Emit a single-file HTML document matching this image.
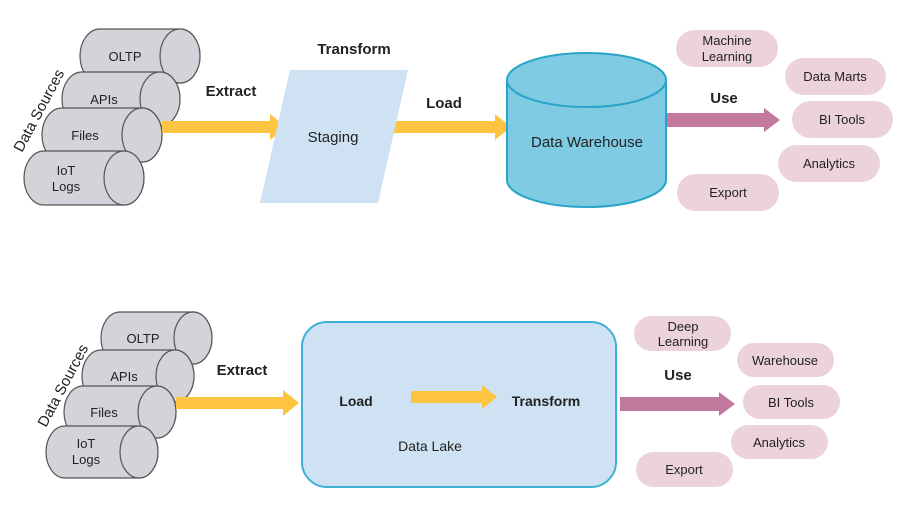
<!DOCTYPE html>
<html><head><meta charset="utf-8"><style>body{margin:0;background:#fff}svg{display:block}text{font-family:"Liberation Sans",sans-serif;fill:#222}</style></head><body>
<svg width="912" height="511" viewBox="0 0 912 511" xmlns="http://www.w3.org/2000/svg">
<g stroke="#555" stroke-width="1.2" fill="#d3d4d9">
<!-- top cylinders -->
<path d="M100,29 L180,29 A20,27 0 0 1 180,83 L100,83 A20,27 0 0 1 100,29Z"/><ellipse cx="180" cy="56" rx="20" ry="27"/>
<path d="M82,72 L160,72 A20,27 0 0 1 160,126 L82,126 A20,27 0 0 1 82,72Z"/><ellipse cx="160" cy="99" rx="20" ry="27"/>
<path d="M62,108 L142,108 A20,27 0 0 1 142,162 L62,162 A20,27 0 0 1 62,108Z"/><ellipse cx="142" cy="135" rx="20" ry="27"/>
<path d="M44,151 L124,151 A20,27 0 0 1 124,205 L44,205 A20,27 0 0 1 44,151Z"/><ellipse cx="124" cy="178" rx="20" ry="27"/>
<!-- bottom cylinders -->
<path d="M120,312 L193,312 A19,26 0 0 1 193,364 L120,364 A19,26 0 0 1 120,312Z"/><ellipse cx="193" cy="338" rx="19" ry="26"/>
<path d="M101,350 L175,350 A19,26 0 0 1 175,402 L101,402 A19,26 0 0 1 101,350Z"/><ellipse cx="175" cy="376" rx="19" ry="26"/>
<path d="M83,386 L157,386 A19,26 0 0 1 157,438 L83,438 A19,26 0 0 1 83,386Z"/><ellipse cx="157" cy="412" rx="19" ry="26"/>
<path d="M65,426 L139,426 A19,26 0 0 1 139,478 L65,478 A19,26 0 0 1 65,426Z"/><ellipse cx="139" cy="452" rx="19" ry="26"/>
</g>
<g font-size="13" text-anchor="middle">
<text x="125" y="61">OLTP</text><text x="104" y="104">APIs</text><text x="85" y="140">Files</text><text x="66" y="175">IoT</text><text x="66" y="191">Logs</text>
<text x="143" y="343">OLTP</text><text x="124" y="381">APIs</text><text x="104" y="417">Files</text><text x="86" y="448">IoT</text><text x="86" y="464">Logs</text>
</g>
<text font-size="15" transform="translate(22,153) rotate(-62)">Data Sources</text>
<text font-size="15" transform="translate(46,428) rotate(-62)">Data Sources</text>
<!-- arrows -->
<g fill="#fcc440">
<path d="M162,121 L270,121 L270,114 L286,127 L270,140 L270,133 L162,133Z"/>
<path d="M392,121 L495,121 L495,114 L511,127 L495,140 L495,133 L392,133Z"/>
<path d="M176,397 L283,397 L283,390 L299,403 L283,416 L283,409 L176,409Z"/>
</g>
<g fill="#c17a9d">
<path d="M666,113 L764,113 L764,108 L780,120 L764,132 L764,127 L666,127Z"/>
<path d="M620,397 L719,397 L719,392 L735,404 L719,416 L719,411 L620,411Z"/>
</g>
<polygon points="290,70 408,70 378,203 260,203" fill="#cfe2f3"/>
<g font-weight="bold" font-size="15" text-anchor="middle">
<text x="354" y="54">Transform</text><text x="231" y="96">Extract</text><text x="444" y="108">Load</text><text x="724" y="103">Use</text>
<text x="242" y="375">Extract</text><text x="678" y="380">Use</text>
</g>
<text x="333" y="142" font-size="15" text-anchor="middle">Staging</text>
<!-- DW -->
<path d="M507,80 L507,180 A79.5,27 0 0 0 666,180 L666,80Z" fill="#7ecbe3" stroke="#2aa4c8" stroke-width="2"/>
<ellipse cx="586.5" cy="80" rx="79.5" ry="27" fill="#7ecbe3" stroke="#2aa4c8" stroke-width="2"/>
<text x="587" y="147" font-size="15" text-anchor="middle">Data Warehouse</text>
<!-- Data Lake -->
<rect x="302" y="322" width="314" height="165" rx="25" fill="#cfe2f3" stroke="#3fb0d6" stroke-width="2"/>
<path d="M411,391 L482,391 L482,385 L497,397 L482,409 L482,403 L411,403Z" fill="#fcc440"/>
<g font-weight="bold" font-size="14" text-anchor="middle"><text x="356" y="406">Load</text><text x="546" y="406">Transform</text></g>
<text x="430" y="451" font-size="14" text-anchor="middle">Data Lake</text>
<!-- pills -->
<g fill="#ecd2dd">
<rect x="676" y="30" width="102" height="37" rx="18.5"/><rect x="785" y="58" width="101" height="37" rx="18.5"/><rect x="792" y="101" width="101" height="37" rx="18.5"/><rect x="778" y="145" width="102" height="37" rx="18.5"/><rect x="677" y="174" width="102" height="37" rx="18.5"/>
<rect x="634" y="316" width="97" height="35" rx="17.5"/><rect x="737" y="343" width="97" height="34" rx="17"/><rect x="743" y="385" width="97" height="34" rx="17"/><rect x="731" y="425" width="97" height="34" rx="17"/><rect x="636" y="452" width="97" height="35" rx="17.5"/>
</g>
<g font-size="13" text-anchor="middle">
<text x="727" y="45">Machine</text><text x="727" y="61">Learning</text><text x="835" y="81">Data Marts</text><text x="842" y="124">BI Tools</text><text x="829" y="168">Analytics</text><text x="728" y="197">Export</text>
<text x="683" y="331">Deep</text><text x="683" y="346">Learning</text><text x="785" y="365">Warehouse</text><text x="791" y="407">BI Tools</text><text x="779" y="447">Analytics</text><text x="684" y="474">Export</text>
</g>
</svg>
</body></html>
